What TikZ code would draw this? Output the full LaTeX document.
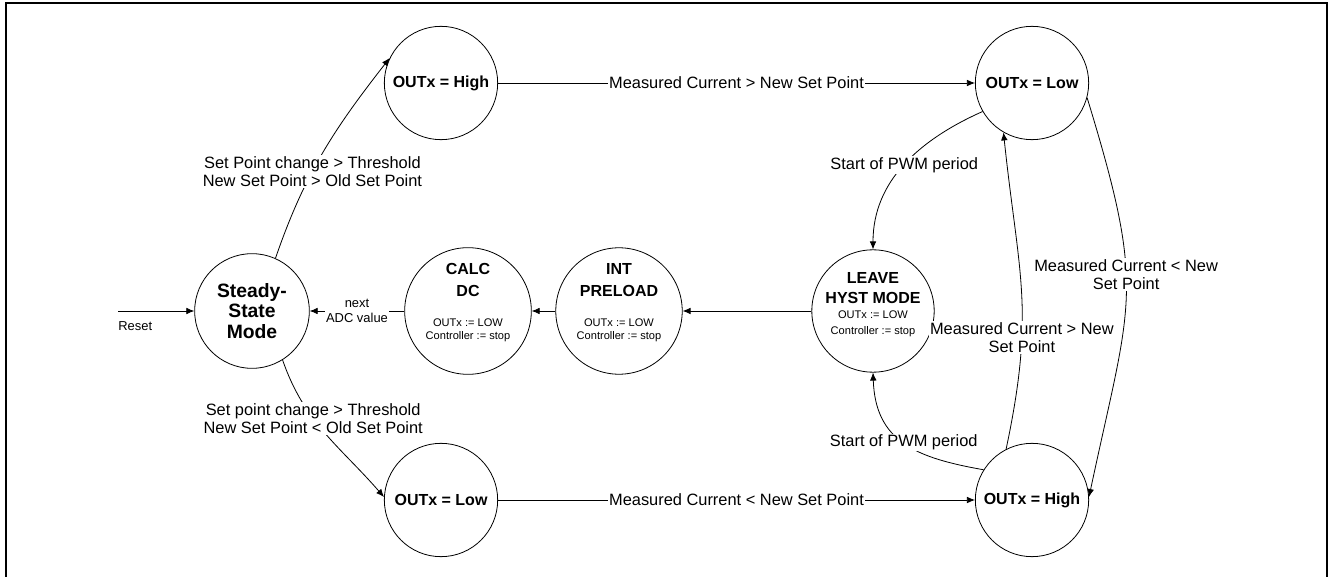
\documentclass[tikz,border=0pt]{standalone}
\usepackage{fontspec}
\setmainfont{Liberation Sans}
\usetikzlibrary{arrows.meta}

\newcommand{\stfont}{\fontsize{12}{15}\selectfont\bfseries}
\newcommand{\bigstfont}{\fontsize{14.5}{15.4}\selectfont\bfseries}
\newcommand{\edgefont}{\fontsize{12.3}{13.5}\selectfont}
\newcommand{\notefont}{\fontsize{8.3}{10}\selectfont\mdseries}
\newcommand{\inputfont}{\fontsize{9.7}{11.25}\selectfont}

\begin{document}
\begin{tikzpicture}[x=7.5pt, y=-7.5pt, line width=0.6pt, >={Latex[length=6pt,width=5pt]},
	state/.style={circle, draw, minimum size=85pt, inner sep=0pt, align=center, font=\stfont},
	edgelbl/.style={fill=white, inner sep=1pt, align=center, font=\edgefont}]
	\useasboundingbox (0,0) rectangle (132.9,57.7);
	\draw[line width=1.5pt] (0.57,58) -- (0.57,0.33) -- (132.7,0.33) -- (132.7,58);

	\node (steady) at (25.2,31.1) [state, minimum size=86pt, font=\bigstfont] {Steady-\\State\\Mode};
	\node (calc) at (46.8,31.1) [state, minimum size=82pt] {CALC\\[1.5pt]DC\\[7.5pt]{\notefont OUTx := LOW}\\[-5.25pt]{\notefont Controller := stop\rule[-13.75pt]{0pt}{0pt}}};
	\node (int) at (61.9,31.1) [state, minimum size=82pt] {INT\\[1.5pt]PRELOAD\\[7.5pt]{\notefont OUTx := LOW}\\[-5.25pt]{\notefont Controller := stop\rule[-13.75pt]{0pt}{0pt}}};
	\node (leave) at (87.3,31.1) [state] {LEAVE\\HYST MODE\\[-3.75pt]{\notefont OUTx := LOW}\\[-3pt]{\notefont Controller := stop\rule[-11.35pt]{0pt}{0pt}}};
		\node (highT) at (44.1,8.3) [state] {OUTx = High};
		\node (lowT) at (103.2,8.3) [state] {OUTx = Low};
		\node (lowB) at (44.1,50) [state] {OUTx = Low};
		\node (highB) at (103.2,50) [state] {OUTx = High};
	\coordinate (reset) at (11.8,31.1);

	\draw[->] (reset) -- node [pos=0, below right, inner sep=0pt, yshift=-8pt, font=\inputfont] {Reset} (steady);
	\draw[->] (steady.66) to [out=71, in=232] node [edgelbl, pos=0.4] {Set Point change > Threshold\\New Set Point > Old Set Point} (highT.154);
	\draw[->] (steady.-58) to [out=-71, in=131] node [edgelbl, pos=0.38] {Set point change > Threshold\\New Set Point < Old Set Point} (lowB.177);
	\draw[->] (highT) -- node [edgelbl] {Measured Current > New Set Point} (lowT);
	\draw[->] (lowB) -- node [edgelbl] {Measured Current < New Set Point} (highB);
	\draw[->] (lowT.-15) to [out=-73, in=78, looseness=1.3] node [edgelbl, pos=0.43] {Measured Current < New\\Set Point} (highB.3);
	\draw[->] (highB.117) to [out=78, in=-84, looseness=1.15] node [edgelbl, pos=0.33] {Measured Current > New\\Set Point} (lowT.240);
	\draw[->] (lowT.210) to [out=204, in=90] node [edgelbl] {Start of PWM period} (leave.north);
	\draw[->] (highB.148) to [out=170, in=-88, looseness=1.2] node [edgelbl] {Start of PWM period} (leave.south);
	\draw[->] (leave) -- (int);
	\draw[->] (int) -- (calc);
	\draw[->] (calc) -- node [edgelbl, font=\inputfont] {next\\ADC value} (steady);
\end{tikzpicture}
\end{document}
